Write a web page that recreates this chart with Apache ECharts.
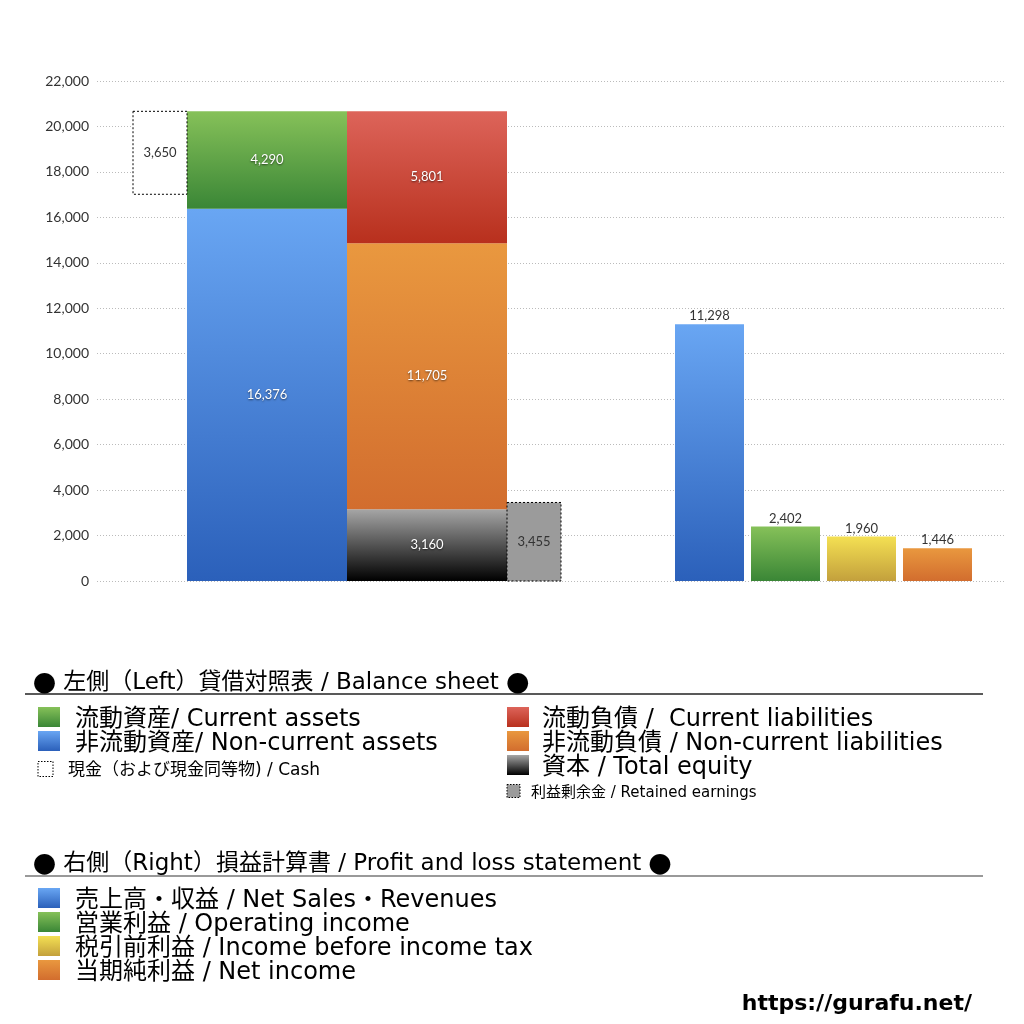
<!DOCTYPE html>
<html>
<head>
<meta charset="utf-8">
<script src="https://cdn.jsdelivr.net/npm/echarts@6/dist/echarts.min.js"></script>
<style>
html, body { margin: 0; padding: 0; background: #fff; }
#main { width: 1024px; height: 1024px; }
</style>
</head>
<body>
<div id="main"></div>
<script>
// 貸借対照表 (left)
var assetNames = ['非流動資産', '流動資産'];
var assetVals = [16376, 4290];
var liabNames = ['資本', '非流動負債', '流動負債'];
var liabVals = [3160, 11705, 5801];
var cashVal = 3650;
var retainedVal = 3455;
// 損益計算書 (right)
var plNames = ['売上高・収益', '営業利益', '税引前利益', '当期純利益'];
var plVals = [11298, 2402, 1960, 1446];
// y axis
var yMin = 0, yMax = 22000, yStep = 2000;

// legend texts
var bsTitle = '左側（Left）貸借対照表 / Balance sheet';
var bsLegendL = ['流動資産/ Current assets', '非流動資産/ Non-current assets'];
var bsCashLegend = '現金（および現金同等物) / Cash';
var bsLegendR = ['流動負債 /  Current liabilities', '非流動負債 / Non-current liabilities', '資本 / Total equity'];
var bsRetainedLegend = '利益剰余金 / Retained earnings';
var plTitle = '右側（Right）損益計算書 / Profit and loss statement';
var plLegend = ['売上高・収益 / Net Sales・Revenues', '営業利益 / Operating income', '税引前利益 / Income before income tax', '当期純利益 / Net income'];
var siteUrl = 'https://gurafu.net/';

function grad(top, bottom) {
    return {type: 'linear', x: 0, y: 0, x2: 0, y2: 1, colorStops: [{offset: 0, color: top}, {offset: 1, color: bottom}]};
}
var cBlue = grad('#69a6f3', '#2b60ba');
var cGreen = grad('#86c159', '#3a8636');
var cRed = grad('#dd645a', '#b8301d');
var cOrange = grad('#e9983f', '#d26d2e');
var cEquity = grad('#a6a6a6', '#000000');
var cYellow = grad('#f4e053', '#c3a03c');

var fmt = function (v) { return v.toLocaleString('en-US'); };
var TXT = '"DejaVu Sans", "Noto Sans CJK JP", sans-serif';

// horizontal slots in grid units (0..908)
function block(x0, x1, base, val, style, lbl) {
    return {
        type: 'custom',
        silent: true,
        encode: {x: [0, 1], y: [2, 3]},
        data: [[x0, x1, base, base + val]],
        renderItem: function (params, api) {
            var p0 = api.coord([api.value(0), api.value(3)]);
            var p1 = api.coord([api.value(1), api.value(2)]);
            var kids = [{
                type: 'rect',
                shape: {x: p0[0], y: p0[1], width: p1[0] - p0[0], height: p1[1] - p0[1]},
                style: style
            }];
            var tx = (p0[0] + p1[0]) / 2;
            var ty = lbl.top ? p0[1] - 8 : (p0[1] + p1[1]) / 2;
            var ts = {
                text: fmt(val), fill: lbl.color, font: '13px Lato, sans-serif',
                align: 'center', verticalAlign: 'middle'
            };
            if (lbl.shadow) {
                ts.textShadowColor = 'rgba(0,0,0,0.6)';
                ts.textShadowBlur = 2;
                ts.textShadowOffsetY = 1;
            }
            kids.push({type: 'text', x: tx, y: ty, style: ts});
            return {type: 'group', children: kids};
        }
    };
}

var series = [];
var wl = {color: '#fff', shadow: true};
var dl = {color: '#333'};
var tl = {color: '#333', top: true};
// assets column
series.push(block(90, 250, 0, assetVals[0], {fill: cBlue}, wl));
series.push(block(90, 250, assetVals[0], assetVals[1], {fill: cGreen}, wl));
// cash dashed box hanging from top of assets
var assetTop = assetVals[0] + assetVals[1];
series.push(block(36, 90, assetTop - cashVal, cashVal, {fill: '#fff', stroke: '#000', lineWidth: 1, lineDash: [2, 2]}, dl));
// liabilities + equity column
var liabStyles = [cEquity, cOrange, cRed];
var acc = 0;
for (var i = 0; i < liabVals.length; i++) {
    series.push(block(250, 410, acc, liabVals[i], {fill: liabStyles[i]}, wl));
    acc += liabVals[i];
}
// retained earnings
series.push(block(410, 464, 0, retainedVal, {fill: '#9b9b9b', stroke: '#000', lineWidth: 1, lineDash: [2, 2]}, dl));
// P/L bars
var plStyles = [cBlue, cGreen, cYellow, cOrange];
var plX = [578, 654, 730, 806];
for (var j = 0; j < plVals.length; j++) {
    series.push(block(plX[j], plX[j] + 69, 0, plVals[j], {fill: plStyles[j]}, tl));
}

// legend drawn as graphic text
var g = [];
function title(y, text, lineY, lineColor) {
    g.push({type: 'text', x: 33, y: y + 3, style: {
        text: '{b|●} ' + text + ' {b|●}', fill: '#000', font: '23px ' + TXT, verticalAlign: 'middle',
        rich: {b: {font: '23px "Noto Sans CJK JP"', fill: '#000'}}
    }});
    g.push({type: 'line', shape: {x1: 25, y1: lineY, x2: 983, y2: lineY}, style: {stroke: lineColor, lineWidth: 1.5}});
}
function item(x, y, w, h, fill, text, fontSize, dx, dashed) {
    var st = {fill: fill};
    if (dashed) { st.stroke = '#000'; st.lineWidth = 1; st.lineDash = [1.5, 1.5]; }
    g.push({type: 'rect', shape: {x: x, y: y - h / 2, width: w, height: h}, style: st});
    g.push({type: 'text', x: x + dx, y: y + (fontSize > 20 ? 3 : 2), style: {text: text, fill: '#000', font: fontSize + 'px ' + TXT, verticalAlign: 'middle'}});
}
title(680, bsTitle, 694, '#222');
item(38, 717, 22, 20, cGreen, bsLegendL[0], 24, 37);
item(38, 741, 22, 20, cBlue, bsLegendL[1], 24, 37);
item(38, 769, 15, 15, '#fff', bsCashLegend, 17, 30, true);
item(507, 717, 22, 20, cRed, bsLegendR[0], 24, 35);
item(507, 741, 22, 20, cOrange, bsLegendR[1], 24, 35);
item(507, 765, 22, 20, cEquity, bsLegendR[2], 24, 35);
item(507, 791, 13, 13, '#9b9b9b', bsRetainedLegend, 15, 24, true);
title(861, plTitle, 876, '#777');
var plLegFill = [cBlue, cGreen, cYellow, cOrange];
for (var k = 0; k < plLegend.length; k++) {
    item(38, 898 + k * 24, 22, 20, plLegFill[k], plLegend[k], 24, 37);
}
g.push({type: 'text', x: 972, y: 1004, style: {text: siteUrl, fill: '#000', font: 'bold 22px "DejaVu Sans", sans-serif', align: 'right', verticalAlign: 'middle'}});

var chart = echarts.init(document.getElementById('main'));
chart.setOption({
    animation: false,
    backgroundColor: '#fff',
    grid: {left: 97, right: 19, top: 81, bottom: 443},
    xAxis: {type: 'value', min: 0, max: 908, show: false},
    yAxis: {
        type: 'value', min: yMin, max: yMax, interval: yStep,
        axisLine: {show: false}, axisTick: {show: false},
        axisLabel: {color: '#333', fontSize: 14, fontFamily: 'Lato, sans-serif', margin: 8, formatter: fmt},
        splitLine: {show: true, lineStyle: {color: '#bbb', type: [1, 2], width: 1}}
    },
    series: series,
    graphic: g
});
</script>
</body>
</html>
